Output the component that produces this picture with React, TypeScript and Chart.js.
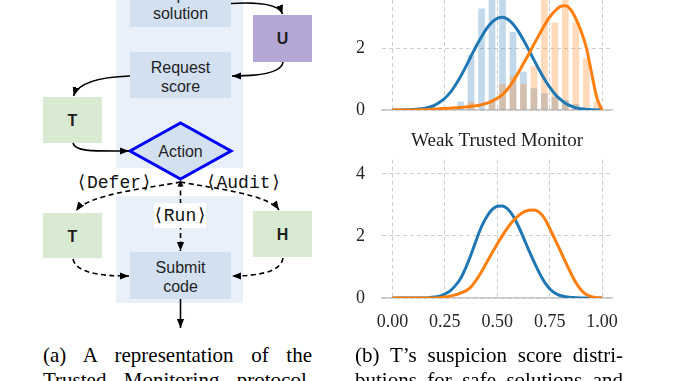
import React, { useEffect, useRef } from 'react';
import { Chart, registerables } from 'chart.js';

Chart.register(...registerables);

// ---------- data ----------
const xGrid = [0, 0.025, 0.05, 0.075, 0.1, 0.125, 0.15, 0.175, 0.2, 0.225, 0.25, 0.275, 0.3, 0.325, 0.35, 0.375, 0.4, 0.425, 0.45, 0.475, 0.5, 0.525, 0.55, 0.575, 0.6, 0.625, 0.65, 0.675, 0.7, 0.725, 0.75, 0.775, 0.8, 0.825, 0.85, 0.875, 0.9, 0.925, 0.95, 0.975, 1];

const strongSafeKde = [0, 0, 0, 0.01, 0.02, 0.03, 0.05, 0.09, 0.15, 0.25, 0.38, 0.56, 0.8, 1.08, 1.4, 1.74, 2.07, 2.37, 2.64, 2.84, 2.96, 3.0, 2.93, 2.78, 2.55, 2.26, 1.95, 1.62, 1.3, 1.0, 0.74, 0.52, 0.35, 0.22, 0.13, 0.07, 0.04, 0.02, 0.01, 0, 0];
const strongBackdoorKde = [0, 0, 0, 0, 0, 0.01, 0.01, 0.02, 0.03, 0.04, 0.05, 0.06, 0.07, 0.08, 0.1, 0.12, 0.14, 0.17, 0.22, 0.29, 0.38, 0.5, 0.68, 0.92, 1.2, 1.5, 1.8, 2.12, 2.43, 2.73, 3.0, 3.2, 3.34, 3.37, 3.25, 2.95, 2.55, 2.02, 1.2, 0.4, 0];
const weakSafeKde = [0, 0, 0, 0, 0, 0, 0, 0.01, 0.03, 0.06, 0.13, 0.23, 0.4, 0.63, 0.98, 1.4, 1.87, 2.3, 2.62, 2.85, 2.96, 2.97, 2.87, 2.65, 2.33, 1.95, 1.55, 1.17, 0.82, 0.52, 0.3, 0.16, 0.08, 0.04, 0.02, 0.01, 0, 0, 0, 0, 0];
const weakBackdoorKde = [0, 0, 0, 0, 0, 0, 0, 0, 0, 0.01, 0.03, 0.06, 0.1, 0.16, 0.23, 0.36, 0.58, 0.85, 1.15, 1.45, 1.74, 2.02, 2.27, 2.48, 2.65, 2.77, 2.83, 2.84, 2.77, 2.57, 2.25, 1.9, 1.54, 1.17, 0.82, 0.5, 0.26, 0.11, 0.04, 0.01, 0];

const histBins = [0.325, 0.375, 0.425, 0.475, 0.525, 0.575, 0.625, 0.675, 0.725, 0.775, 0.825, 0.875, 0.925, 0.975];
const strongSafeHist = [0.27, 1.77, 3.28, 4.2, 4.5, 2.52, 1.24, 0.7, 0.54, 0.43, 0.32, 0.19, 0, 0];
const strongBackdoorHist = [0, 0.27, 0, 0.32, 0.84, 1.1, 0.84, 1.41, 3.8, 2.83, 3.8, 2.83, 1.68, 0.27];

const xTicks = [0, 0.25, 0.5, 0.75, 1];
const xTickLabels = ['0.00', '0.25', '0.50', '0.75', '1.00'];
const yTicks = [0, 2, 4];
const yTickLabels = ['0', '2', '4'];
const weakTitle = 'Weak Trusted Monitor';

const captionA = ['(a) A representation of the', 'Trusted Monitoring protocol.'];
const captionB = ['(b) T\u2019s suspicion score distri-', 'butions for safe solutions and'];

// ---------- styles ----------
const SERIF = "'Liberation Serif', 'Times New Roman', Times, serif";
const SANS = "'Liberation Sans', Arial, Helvetica, sans-serif";
const MONO = "'Liberation Mono', 'Courier New', 'DejaVu Sans Mono', monospace";
const BLUE = '#1f77b4';
const ORANGE = '#ff7f0e';
const GRID = '#cfcfcf';
const AXIS = '#c6c6c6';
const TICK = '#262626';

type P = { x: number; y: number };
const toPoints = (xs: number[], ys: number[]): P[] => xs.map((x, i) => ({ x, y: ys[i] }));

function zeroPad(s: any) {
  s.paddingLeft = 0;
  s.paddingRight = 0;
  s.paddingTop = 0;
  s.paddingBottom = 0;
}

function makeConfig(kind: 'strong' | 'weak'): any {
  const strong = kind === 'strong';
  const safe = strong ? strongSafeKde : weakSafeKde;
  const back = strong ? strongBackdoorKde : weakBackdoorKde;
  const datasets: any[] = [
    {
      type: 'line', label: 'safe', data: toPoints(xGrid, safe), borderColor: BLUE, borderWidth: 3,
      pointRadius: 0, cubicInterpolationMode: 'monotone', fill: false, order: 1,
    },
    {
      type: 'line', label: 'backdoored', data: toPoints(xGrid, back), borderColor: ORANGE, borderWidth: 3,
      pointRadius: 0, cubicInterpolationMode: 'monotone', fill: false, order: 0,
    },
  ];
  if (strong) {
    datasets.push({
      type: 'bar', label: 'safe hist', data: toPoints(histBins, strongSafeHist),
      backgroundColor: 'rgba(31,119,180,0.28)', borderWidth: 0, grouped: false,
      barPercentage: 0.64, categoryPercentage: 1, order: 3,
    });
    datasets.push({
      type: 'bar', label: 'backdoored hist', data: toPoints(histBins, strongBackdoorHist),
      backgroundColor: 'rgba(255,127,14,0.28)', borderWidth: 0, grouped: false,
      barPercentage: 0.64, categoryPercentage: 1, order: 2,
    });
  }
  const xAxisH = strong ? 15 : 40;
  return {
    type: 'line',
    data: { datasets },
    options: {
      responsive: false,
      maintainAspectRatio: false,
      animation: false,
      devicePixelRatio: 1,
      layout: {
        autoPadding: false,
        padding: { left: 0, right: 0, top: strong ? 12 : 0, bottom: 0 },
      },
      plugins: {
        legend: { display: false },
        tooltip: { enabled: false },
        title: strong
          ? { display: false }
          : {
              display: true, text: weakTitle, color: '#1e1e1e',
              font: { family: SERIF, size: 19, weight: 'normal' },
              padding: { top: 11.8, bottom: 7.1 },
            },
      },
      scales: {
        x: {
          type: 'linear', min: -0.05, max: 1.05, offset: false,
          afterBuildTicks: (s: any) => { s.ticks = xTicks.map((v) => ({ value: v })); },
          afterFit: (s: any) => { s.height = xAxisH; zeroPad(s); },
          grid: { color: GRID, lineWidth: 1, drawTicks: false, offset: false },
          border: { display: true, color: AXIS, width: 1.6, dash: [4, 3] },
          ticks: {
            display: !strong, padding: 13, color: TICK, autoSkip: false, maxRotation: 0,
            font: { family: SERIF, size: 18 },
            callback: (_v: any, i: number) => xTickLabels[i],
          },
        },
        y: {
          type: 'linear', position: 'left', min: 0, max: 4.46,
          afterBuildTicks: (s: any) => { s.ticks = yTicks.map((v) => ({ value: v })); },
          afterFit: (s: any) => { s.width = 42; zeroPad(s); },
          grid: { color: GRID, lineWidth: 1, drawTicks: false },
          border: { display: false, dash: [4, 3] },
          ticks: {
            padding: 17, color: TICK,
            font: { family: SERIF, size: 18 },
            callback: (_v: any, i: number) => yTickLabels[i],
          },
        },
        yRightSpacer: {
          type: 'linear', position: 'right', min: 0, max: 1,
          afterFit: (s: any) => { s.width = 41.5; zeroPad(s); },
          grid: { display: false, drawTicks: false },
          border: { display: false },
          ticks: { display: false },
        },
      },
    },
  };
}

function ChartCanvas(props: { kind: 'strong' | 'weak'; left: number; top: number; width: number; height: number }) {
  const ref = useRef<HTMLCanvasElement>(null);
  const { kind, left, top, width, height } = props;
  useEffect(() => {
    const chart = new Chart(ref.current as HTMLCanvasElement, makeConfig(kind));
    return () => chart.destroy();
  }, [kind]);
  return (
    <canvas
      ref={ref}
      width={width}
      height={height}
      style={{ position: 'absolute', left, top, width, height, display: 'block' }}
    />
  );
}

const boxFill = '#d3e0f0';
const panelFill = '#e9f0f9';
const green = '#d9ead3';
const purple = '#b4a7d6';

function Label(props: { x: number; y: number; children: any; bold?: boolean }) {
  return (
    <text
      x={props.x}
      y={props.y}
      textAnchor="middle"
      dominantBaseline="central"
      fontFamily={SANS}
      fontSize={16}
      fontWeight={props.bold ? 'bold' : 'normal'}
      fill="#1f1f1f"
    >
      {props.children}
    </text>
  );
}

function MonoLabel(props: { x: number; y: number; children: any }) {
  return (
    <text x={props.x} y={props.y} textAnchor="middle" dominantBaseline="central" fontFamily={MONO} fontSize={18} fill="#111">
      {props.children}
    </text>
  );
}

function Flowchart() {
  const solid = { fill: 'none', stroke: '#000', strokeWidth: 1.6, markerEnd: 'url(#arr)' } as any;
  const dashed = { ...solid, strokeDasharray: '5,3.5' };
  return (
    <svg width={340} height={381} style={{ position: 'absolute', left: 0, top: 0 }}>
      <defs>
        <marker id="arr" viewBox="0 0 10 10" refX="10" refY="5" markerUnits="userSpaceOnUse" markerWidth="9" markerHeight="9" orient="auto">
          <path d="M0,1 L10,5 L0,9 z" fill="#000" />
        </marker>
      </defs>
      <rect x={116} y={-10} width={127} height={178} fill={panelFill} />
      <rect x={116} y={196} width={127} height={107} fill={panelFill} />

      <rect x={130} y={-19} width={101} height={46} fill={boxFill} />
      <Label x={180.5} y={-6}>Request</Label>
      <Label x={180.5} y={13}>solution</Label>

      <rect x={253} y={15} width={59} height={47} fill={purple} />
      <Label x={282.5} y={38.5} bold>U</Label>

      <rect x={130} y={52} width={101} height={46} fill={boxFill} />
      <Label x={180.5} y={67}>Request</Label>
      <Label x={180.5} y={86}>score</Label>

      <rect x={43} y={97} width={59} height={46} fill={green} />
      <Label x={72.5} y={120} bold>T</Label>

      <polygon points="130,151 180.5,123 231,151 180.5,179" fill={boxFill} stroke="#0000ff" strokeWidth={3} />
      <Label x={180.5} y={151}>Action</Label>

      <rect x={43} y={213} width={59} height={45} fill={green} />
      <Label x={72.5} y={236} bold>T</Label>

      <rect x={253} y={211} width={59} height={46} fill={green} />
      <Label x={282.5} y={234} bold>H</Label>

      <rect x={130} y={252} width={101} height={47} fill={boxFill} />
      <Label x={180.5} y={267.5}>Submit</Label>
      <Label x={180.5} y={286}>code</Label>

      <path d="M231,3.5 C257,2 279,4 282.5,14" {...solid} />
      <path d="M283,62 C282,72 262,76 232,76" {...solid} />
      <path d="M130,76 C100,77 78,82 73.5,96" {...solid} />
      <path d="M73,143 C75,152 95,151 129,151" {...solid} />
      <path d="M180.5,299 L180.5,328" {...solid} />

      <path d="M180.5,182 C150,188 88,194 76,211" {...dashed} />
      <path d="M180.5,182 C211,188 268,194 279,210" {...dashed} />
      <path d="M180.5,182 L180.5,251" {...dashed} />
      <path d="M73,259 C76,273 100,276 129,276" {...dashed} />
      <path d="M283,258 C281,272 258,276 232,276" {...dashed} />
      <polygon points="177.5,186.5 180.5,180 183.5,186.5" fill="#000" />

      <MonoLabel x={114} y={182.5}>{'\u27E8Defer\u27E9'}</MonoLabel>
      <MonoLabel x={243.5} y={182.5}>{'\u27E8Audit\u27E9'}</MonoLabel>
      <rect x={154} y={203} width={52} height={25} fill="#fff" />
      <MonoLabel x={180} y={215.5}>{'\u27E8Run\u27E9'}</MonoLabel>
    </svg>
  );
}

function Caption(props: { left: number; top: number; width: number; lines: string[] }) {
  return (
    <div
      style={{
        position: 'absolute', left: props.left, top: props.top, width: props.width,
        fontFamily: SERIF, fontSize: 21, lineHeight: '25px', color: '#000',
      }}
    >
      {props.lines.map((l, i) => (
        <div key={i} style={{ textAlign: 'justify', textAlignLast: 'justify', whiteSpace: 'nowrap' as any }}>{l}</div>
      ))}
    </div>
  );
}

export default function App() {
  return (
    <div style={{ position: 'fixed', left: 0, top: 0, width: 678, height: 381, overflow: 'hidden', background: '#fff' }}>
      <Flowchart />
      <ChartCanvas kind="strong" left={340} top={-40} width={314} height={165} />
      <ChartCanvas kind="weak" left={340} top={118} width={314} height={220} />
      <Caption left={43} top={343} width={269} lines={captionA} />
      <Caption left={355} top={343} width={268} lines={captionB} />
    </div>
  );
}
